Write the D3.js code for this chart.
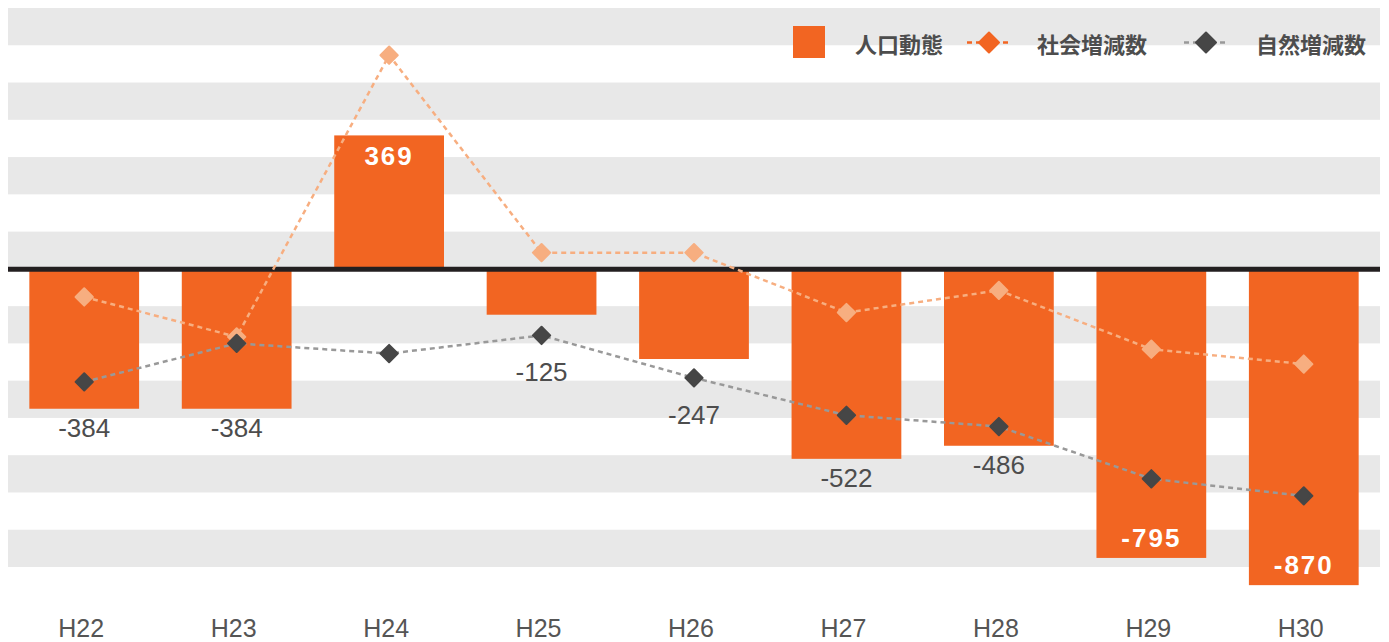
<!DOCTYPE html>
<html>
<head>
<meta charset="utf-8">
<script src="https://cdn.jsdelivr.net/npm/d3@7/dist/d3.min.js"></script>
<style>
  html, body { margin: 0; padding: 0; background: #fff; }
  svg { display: block; }
</style>
</head>
<body>
<div id="frame"></div>
<script>
// data
let years = ['H22', 'H23', 'H24', 'H25', 'H26', 'H27', 'H28', 'H29', 'H30'];
let population = [-384, -384, 369, -125, -247, -522, -486, -795, -870];   // 人口動態
let social = [-76, -186, 590, 46, 46, -119, -58, -220, -261];             // 社会増減数
let natural = [-310, -204, -232, -182, -299, -402, -433, -577, -624];     // 自然増減数
let seriesNames = ['人口動態', '社会増減数', '自然増減数'];

let width = 1389, height = 642;
let plot = { left: 8, right: 1380, top: 8, bottom: 567 };

let orange = '#f26522',
    lightOrange = '#f7ae80',
    dark = '#464646';

let svg = d3.select('#frame').append('svg')
    .attr('width', width)
    .attr('height', height)
    .style('font-family', '"Liberation Sans", Arial, sans-serif');

//scales
let x = d3.scaleBand()
    .domain(years)
    .range([plot.left, plot.right])
    .paddingInner(0.28)
    .paddingOuter(0.14);
let y = d3.scaleLinear()
    .domain([-820, 720])
    .range([plot.bottom, plot.top]);

let cx = (d, i) => x(years[i]) + x.bandwidth() / 2;

//striped background, 15 equal bands over the value range
let nBands = 15;
let bandStep = (y.domain()[1] - y.domain()[0]) / nBands;
svg.append('g')
    .selectAll('rect')
    .data(d3.range(0, nBands, 2))
    .enter()
    .append('rect')
    .attr('x', plot.left)
    .attr('width', plot.right - plot.left)
    .attr('y', k => y(y.domain()[1] - k * bandStep))
    .attr('height', k => y(y.domain()[1] - (k + 1) * bandStep) - y(y.domain()[1] - k * bandStep))
    .attr('fill', '#e8e8e8');

//bars
svg.append('g')
    .selectAll('rect')
    .data(population)
    .enter()
    .append('rect')
    .attr('x', (d, i) => x(years[i]))
    .attr('width', x.bandwidth())
    .attr('y', d => y(Math.max(0, d)))
    .attr('height', d => Math.abs(y(d) - y(0)))
    .attr('fill', orange);

//zero line
svg.append('line')
    .attr('x1', plot.left)
    .attr('x2', plot.right)
    .attr('y1', y(0))
    .attr('y2', y(0))
    .attr('stroke', '#231f20')
    .attr('stroke-width', 5);

//dashed lines with diamonds
let line = d3.line()
    .x(cx)
    .y(d => y(d));

function drawSeries(values, lineColor, pointColor) {
    svg.append('path')
        .datum(values)
        .attr('d', line)
        .attr('fill', 'none')
        .attr('stroke', lineColor)
        .attr('stroke-width', 2.5)
        .attr('stroke-dasharray', '5,4');
    svg.append('g')
        .selectAll('path')
        .data(values)
        .enter()
        .append('path')
        .attr('d', d3.symbol(d3.symbolSquare, 150))
        .attr('transform', (d, i) => 'translate(' + cx(d, i) + ',' + y(d) + ') rotate(45)')
        .attr('fill', pointColor)
        .attr('stroke', pointColor)
        .attr('stroke-width', 2)
        .attr('stroke-linejoin', 'round');
}
drawSeries(social, lightOrange, lightOrange);
drawSeries(natural, '#999999', dark);

//value labels
let inside = d => d > 0 || d < -700;
svg.append('g')
    .selectAll('text')
    .data(population)
    .enter()
    .append('text')
    .attr('x', cx)
    .attr('y', (d, i) => {
        if (d > 0) return y(d) + 30;
        if (inside(d)) return y(d) - 11;
        return Math.max(y(d), y(natural[i]) + 18) + 28;
    })
    .attr('text-anchor', 'middle')
    .attr('font-size', 26)
    .attr('font-weight', d => inside(d) ? 'bold' : 'normal')
    .attr('letter-spacing', d => inside(d) ? '2px' : '0px')
    .attr('fill', d => inside(d) ? '#ffffff' : '#4d4d4d')
    .text(d => d);

//x axis labels
svg.append('g')
    .selectAll('text')
    .data(years)
    .enter()
    .append('text')
    .attr('x', d => x(d) + x.bandwidth() / 2 - 3)
    .attr('y', 637)
    .attr('text-anchor', 'middle')
    .attr('font-size', 25)
    .attr('fill', '#555555')
    .text(d => d);

//legend
let legend = svg.append('g')
    .style('font-family', '"Noto Sans CJK JP", sans-serif')
    .style('font-weight', 'bold')
    .style('font-size', '22px');
let ly = 42.5;
legend.append('rect')
    .attr('x', 793).attr('y', 26)
    .attr('width', 32).attr('height', 32)
    .attr('fill', orange);
legend.append('text')
    .attr('x', 855).attr('y', ly)
    .attr('dominant-baseline', 'central')
    .attr('fill', '#4d4d4d')
    .text(seriesNames[0]);

function legendLine(x0, lineColor, pointColor, name, tx) {
    legend.append('line')
        .attr('x1', x0).attr('x2', x0 + 44)
        .attr('y1', ly).attr('y2', ly)
        .attr('stroke', lineColor)
        .attr('stroke-width', 2.5)
        .attr('stroke-dasharray', '5,4');
    legend.append('path')
        .attr('d', d3.symbol(d3.symbolSquare, 200))
        .attr('transform', 'translate(' + (x0 + 22) + ',' + ly + ') rotate(45)')
        .attr('fill', pointColor)
        .attr('stroke', pointColor)
        .attr('stroke-width', 2)
        .attr('stroke-linejoin', 'round');
    legend.append('text')
        .attr('x', tx).attr('y', ly)
        .attr('dominant-baseline', 'central')
        .attr('fill', '#4d4d4d')
        .text(name);
}
legendLine(967, orange, orange, seriesNames[1], 1037);
legendLine(1184, '#999999', dark, seriesNames[2], 1256);
</script>
</body>
</html>
